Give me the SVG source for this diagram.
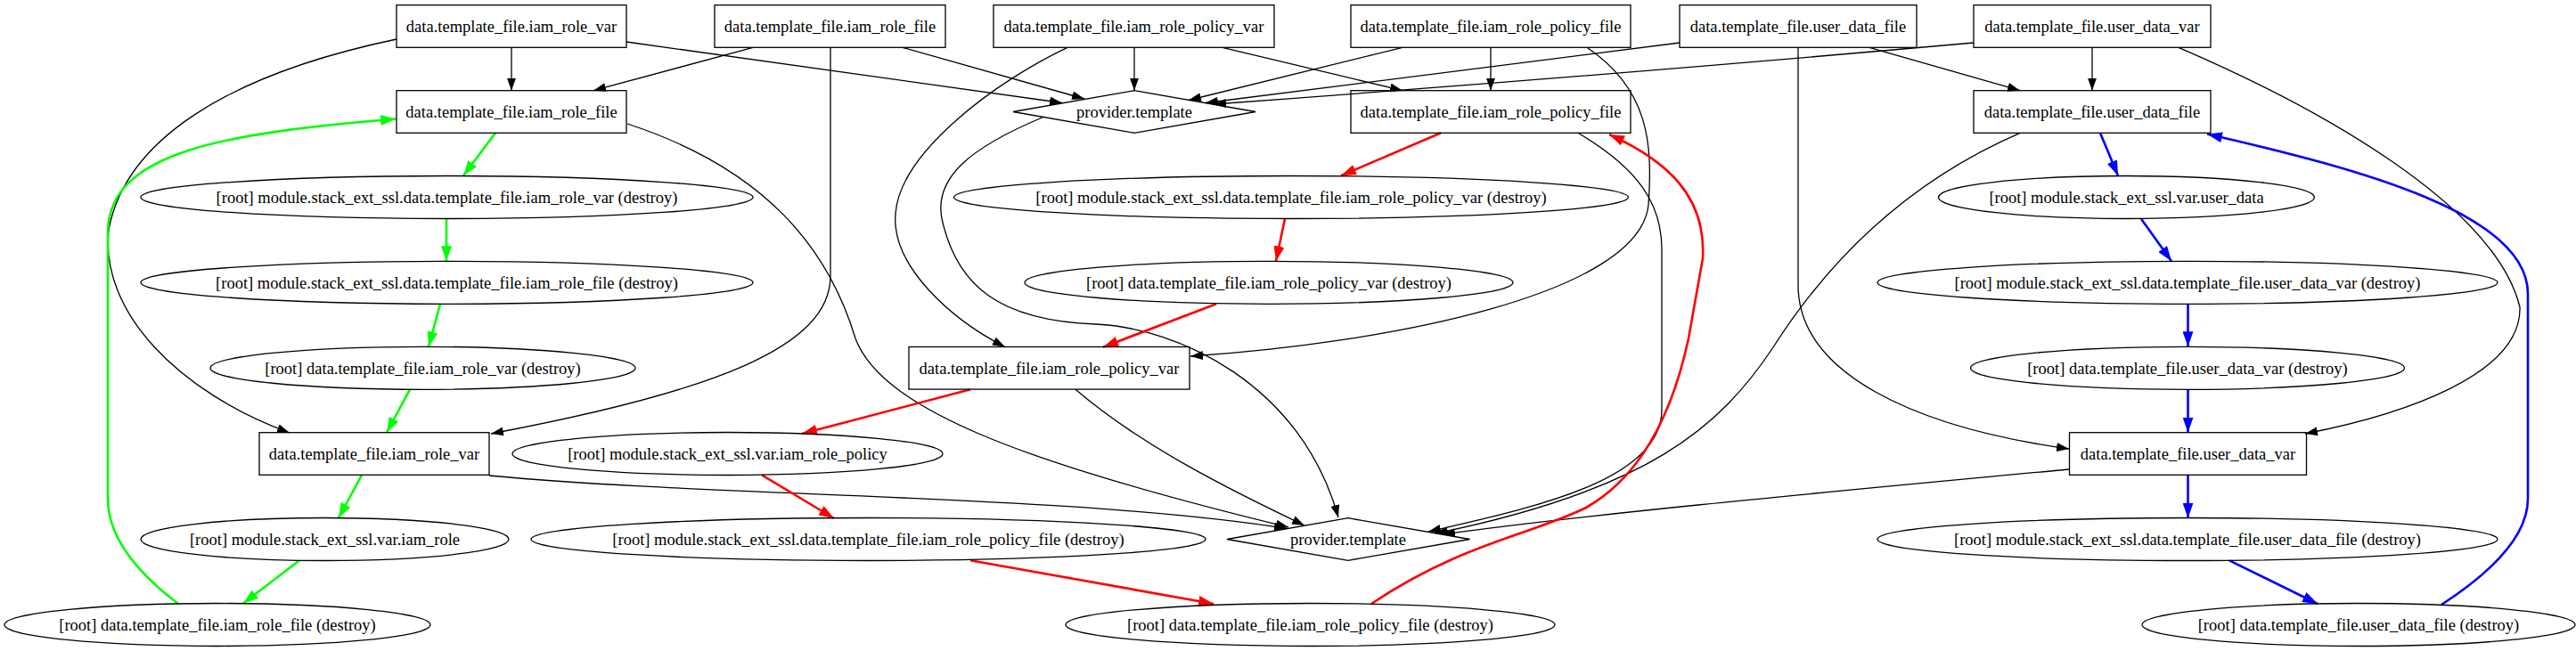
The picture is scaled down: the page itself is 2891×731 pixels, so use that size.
<svg xmlns="http://www.w3.org/2000/svg" width="2891" height="731" viewBox="0 0 2891 731">
<style>
.n rect,.n ellipse,.n polygon{fill:none;stroke:#000;stroke-width:1.3}
.n text{font-family:"Liberation Serif","Times New Roman",serif;font-size:18.5px;text-anchor:middle;fill:#000}
.e path{fill:none}
.k{stroke:#000;stroke-width:1.3;marker-end:url(#ak)}
.g{stroke:#00ff00;stroke-width:2.6;marker-end:url(#ag)}
.r{stroke:#ff0000;stroke-width:2.6;marker-end:url(#ar)}
.b{stroke:#0000ff;stroke-width:2.6;marker-end:url(#ab)}
</style>
<defs>
<marker id="ak" viewBox="0 0 10 8" refX="10" refY="4" markerUnits="userSpaceOnUse" markerWidth="14" markerHeight="10" orient="auto" preserveAspectRatio="none"><path d="M0,0 L10,4 L0,8 z" fill="#000"/></marker>
<marker id="ag" viewBox="0 0 10 8" refX="10" refY="4" markerUnits="userSpaceOnUse" markerWidth="17" markerHeight="12" orient="auto" preserveAspectRatio="none"><path d="M0,0 L10,4 L0,8 z" fill="#00ff00"/></marker>
<marker id="ar" viewBox="0 0 10 8" refX="10" refY="4" markerUnits="userSpaceOnUse" markerWidth="17" markerHeight="12" orient="auto" preserveAspectRatio="none"><path d="M0,0 L10,4 L0,8 z" fill="#ff0000"/></marker>
<marker id="ab" viewBox="0 0 10 8" refX="10" refY="4" markerUnits="userSpaceOnUse" markerWidth="17" markerHeight="12" orient="auto" preserveAspectRatio="none"><path d="M0,0 L10,4 L0,8 z" fill="#0000ff"/></marker>
</defs>
<rect x="0" y="0" width="2891" height="731" fill="#fff"/>
<g id="edges" class="e">
<path class="k" d="M574,53.3 L574,101.7"/>
<path class="k" d="M703,47 L1192,115.5"/>
<path class="k" d="M445,44 C250,85 140,160 122,258 C112,350 200,440 325,486"/>
<path class="k" d="M845,53.3 L666,101.7"/>
<path class="k" d="M1013,53.3 L1217,111"/>
<path class="k" d="M932,53.3 L932,310 C932,390 800,440 551,487"/>
<path class="k" d="M1273,53.3 L1273,101.7"/>
<path class="k" d="M1372,53.3 L1574,101.7"/>
<path class="k" d="M1198,53.3 C1120,90 1010,170 1005,240 C1000,300 1070,360 1128,389.5"/>
<path class="k" d="M1574,53.3 L1334,112.5"/>
<path class="k" d="M1673,53.3 L1673,101.7"/>
<path class="k" d="M1781,53.3 C1850,100 1855,160 1850,230 C1840,330 1560,385 1336,400"/>
<path class="k" d="M1885,48 L1353,115.5"/>
<path class="k" d="M2215,48 Q1800,85 1362,117"/>
<path class="k" d="M2098,53.3 L2267,101.7"/>
<path class="k" d="M2018,53.3 L2018,320 C2018,420 2150,480 2322,504"/>
<path class="k" d="M2348,53.3 L2348,101.7"/>
<path class="k" d="M2445,53.3 C2600,120 2800,230 2828,345 C2830,420 2700,465 2587,487"/>
<path class="k" d="M704,139 C860,190 930,280 960,380 C990,460 1150,520 1446,592"/>
<path class="k" d="M1172,131 C1090,165 1045,200 1058,250 C1075,320 1120,360 1230,364 C1320,368 1460,430 1502,581"/>
<path class="k" d="M1771,149.3 C1840,190 1865,230 1865,280 L1865,460 C1865,540 1720,570 1603,597"/>
<path class="k" d="M2267,149.3 C2150,200 2060,280 1990,390 C1930,480 1850,550 1611,599"/>
<path class="k" d="M1207,437.3 C1280,500 1380,550 1464,590"/>
<path class="k" d="M549,534 C800,558 1200,555 1444,593.5"/>
<path class="k" d="M2322,527 C2100,548 1800,575 1619,600"/>
<path class="g" d="M556,149.3 L520,197.3"/>
<path class="g" d="M501,245.7 L501,293.3"/>
<path class="g" d="M494,341.3 L481,389.3"/>
<path class="g" d="M460,437.3 L434,485.7"/>
<path class="g" d="M406,533.3 L380,581.7"/>
<path class="g" d="M336,629.3 L273,677.5"/>
<path class="g" d="M200,678 C150,640 121,600 121,560 L121,262 C121,170 250,150 444,133.5"/>
<path class="r" d="M1617,149.3 L1505,197.3"/>
<path class="r" d="M1442,245.7 L1432,293.3"/>
<path class="r" d="M1365,341.3 L1238,389.7"/>
<path class="r" d="M1089,437.3 L900,487"/>
<path class="r" d="M855,533.3 L936,582"/>
<path class="r" d="M1089,629.3 L1362,678"/>
<path class="r" d="M1539,678 C1640,610 1720,600 1780,570 C1850,530 1880,450 1895,380 L1911,290 C1915,220 1870,180 1806,151"/>
<path class="b" d="M2357,149.3 L2377,197.3"/>
<path class="b" d="M2403,245.7 L2437,293.3"/>
<path class="b" d="M2455.5,341.3 L2455.5,389.3"/>
<path class="b" d="M2455.5,437.3 L2455.5,485.7"/>
<path class="b" d="M2455.5,533.3 L2455.5,581.7"/>
<path class="b" d="M2502,629.3 L2601,678"/>
<path class="b" d="M2740,679 C2800,640 2837,600 2837,560 L2837,330 C2837,240 2650,190 2477,150.5"/>
</g>
<g id="A1" class="n"><rect x="445" y="5.7" width="258" height="47.6"/><text x="574" y="36">data.template_file.iam_role_var</text></g>
<g id="A2" class="n"><rect x="802" y="5.7" width="259" height="47.6"/><text x="931.5" y="36">data.template_file.iam_role_file</text></g>
<g id="A3" class="n"><rect x="1115" y="5.7" width="315" height="47.6"/><text x="1272.5" y="36">data.template_file.iam_role_policy_var</text></g>
<g id="A4" class="n"><rect x="1516" y="5.7" width="314" height="47.6"/><text x="1673" y="36">data.template_file.iam_role_policy_file</text></g>
<g id="A5" class="n"><rect x="1885" y="5.7" width="266" height="47.6"/><text x="2018" y="36">data.template_file.user_data_file</text></g>
<g id="A6" class="n"><rect x="2215" y="5.7" width="266" height="47.6"/><text x="2348" y="36">data.template_file.user_data_var</text></g>
<g id="B1" class="n"><rect x="445" y="101.7" width="258" height="47.6"/><text x="574" y="132">data.template_file.iam_role_file</text></g>
<g id="B2" class="n"><polygon points="1273,101.7 1409,125.5 1273,149.3 1137,125.5"/><text x="1273" y="132">provider.template</text></g>
<g id="B3" class="n"><rect x="1516" y="101.7" width="314" height="47.6"/><text x="1673" y="132">data.template_file.iam_role_policy_file</text></g>
<g id="B4" class="n"><rect x="2215" y="101.7" width="266" height="47.6"/><text x="2348" y="132">data.template_file.user_data_file</text></g>
<g id="C1" class="n"><ellipse cx="501.5" cy="221.5" rx="343.5" ry="24"/><text x="501.5" y="228">[root] module.stack_ext_ssl.data.template_file.iam_role_var (destroy)</text></g>
<g id="C2" class="n"><ellipse cx="1449" cy="221.5" rx="378.5" ry="24"/><text x="1449" y="228">[root] module.stack_ext_ssl.data.template_file.iam_role_policy_var (destroy)</text></g>
<g id="C3" class="n"><ellipse cx="2386.5" cy="221.5" rx="211" ry="24"/><text x="2386.5" y="228">[root] module.stack_ext_ssl.var.user_data</text></g>
<g id="D1" class="n"><ellipse cx="501.5" cy="317.3" rx="343.5" ry="24"/><text x="501.5" y="324">[root] module.stack_ext_ssl.data.template_file.iam_role_file (destroy)</text></g>
<g id="D2" class="n"><ellipse cx="1424" cy="317.3" rx="274" ry="24"/><text x="1424" y="324">[root] data.template_file.iam_role_policy_var (destroy)</text></g>
<g id="D3" class="n"><ellipse cx="2455" cy="317.3" rx="348" ry="24"/><text x="2455" y="324">[root] module.stack_ext_ssl.data.template_file.user_data_var (destroy)</text></g>
<g id="E1" class="n"><ellipse cx="474.5" cy="413.3" rx="238.5" ry="24"/><text x="474.5" y="420">[root] data.template_file.iam_role_var (destroy)</text></g>
<g id="E2" class="n"><rect x="1020" y="389.5" width="315" height="47.6"/><text x="1177.5" y="420">data.template_file.iam_role_policy_var</text></g>
<g id="E3" class="n"><ellipse cx="2455" cy="413.3" rx="243.5" ry="24"/><text x="2455" y="420">[root] data.template_file.user_data_var (destroy)</text></g>
<g id="F1" class="n"><rect x="291" y="485.7" width="258" height="47.6"/><text x="420" y="516">data.template_file.iam_role_var</text></g>
<g id="F2" class="n"><ellipse cx="816.5" cy="509.5" rx="241.5" ry="24"/><text x="816.5" y="516">[root] module.stack_ext_ssl.var.iam_role_policy</text></g>
<g id="F3" class="n"><rect x="2322.5" y="485.7" width="266" height="47.6"/><text x="2455.5" y="516">data.template_file.user_data_var</text></g>
<g id="G1" class="n"><ellipse cx="364.5" cy="605.5" rx="206.5" ry="24"/><text x="364.5" y="612">[root] module.stack_ext_ssl.var.iam_role</text></g>
<g id="G2" class="n"><ellipse cx="974.5" cy="605.5" rx="378.5" ry="24"/><text x="974.5" y="612">[root] module.stack_ext_ssl.data.template_file.iam_role_policy_file (destroy)</text></g>
<g id="G3" class="n"><polygon points="1513,581.7 1649.5,605.5 1513,629.3 1377,605.5"/><text x="1513" y="612">provider.template</text></g>
<g id="G4" class="n"><ellipse cx="2455" cy="605.5" rx="348" ry="24"/><text x="2455" y="612">[root] module.stack_ext_ssl.data.template_file.user_data_file (destroy)</text></g>
<g id="H1" class="n"><ellipse cx="244" cy="701.5" rx="239" ry="24"/><text x="244" y="708">[root] data.template_file.iam_role_file (destroy)</text></g>
<g id="H2" class="n"><ellipse cx="1470.5" cy="701.5" rx="274.5" ry="24"/><text x="1470.5" y="708">[root] data.template_file.iam_role_policy_file (destroy)</text></g>
<g id="H3" class="n"><ellipse cx="2647" cy="701.5" rx="243" ry="24"/><text x="2647" y="708">[root] data.template_file.user_data_file (destroy)</text></g>
</svg>
